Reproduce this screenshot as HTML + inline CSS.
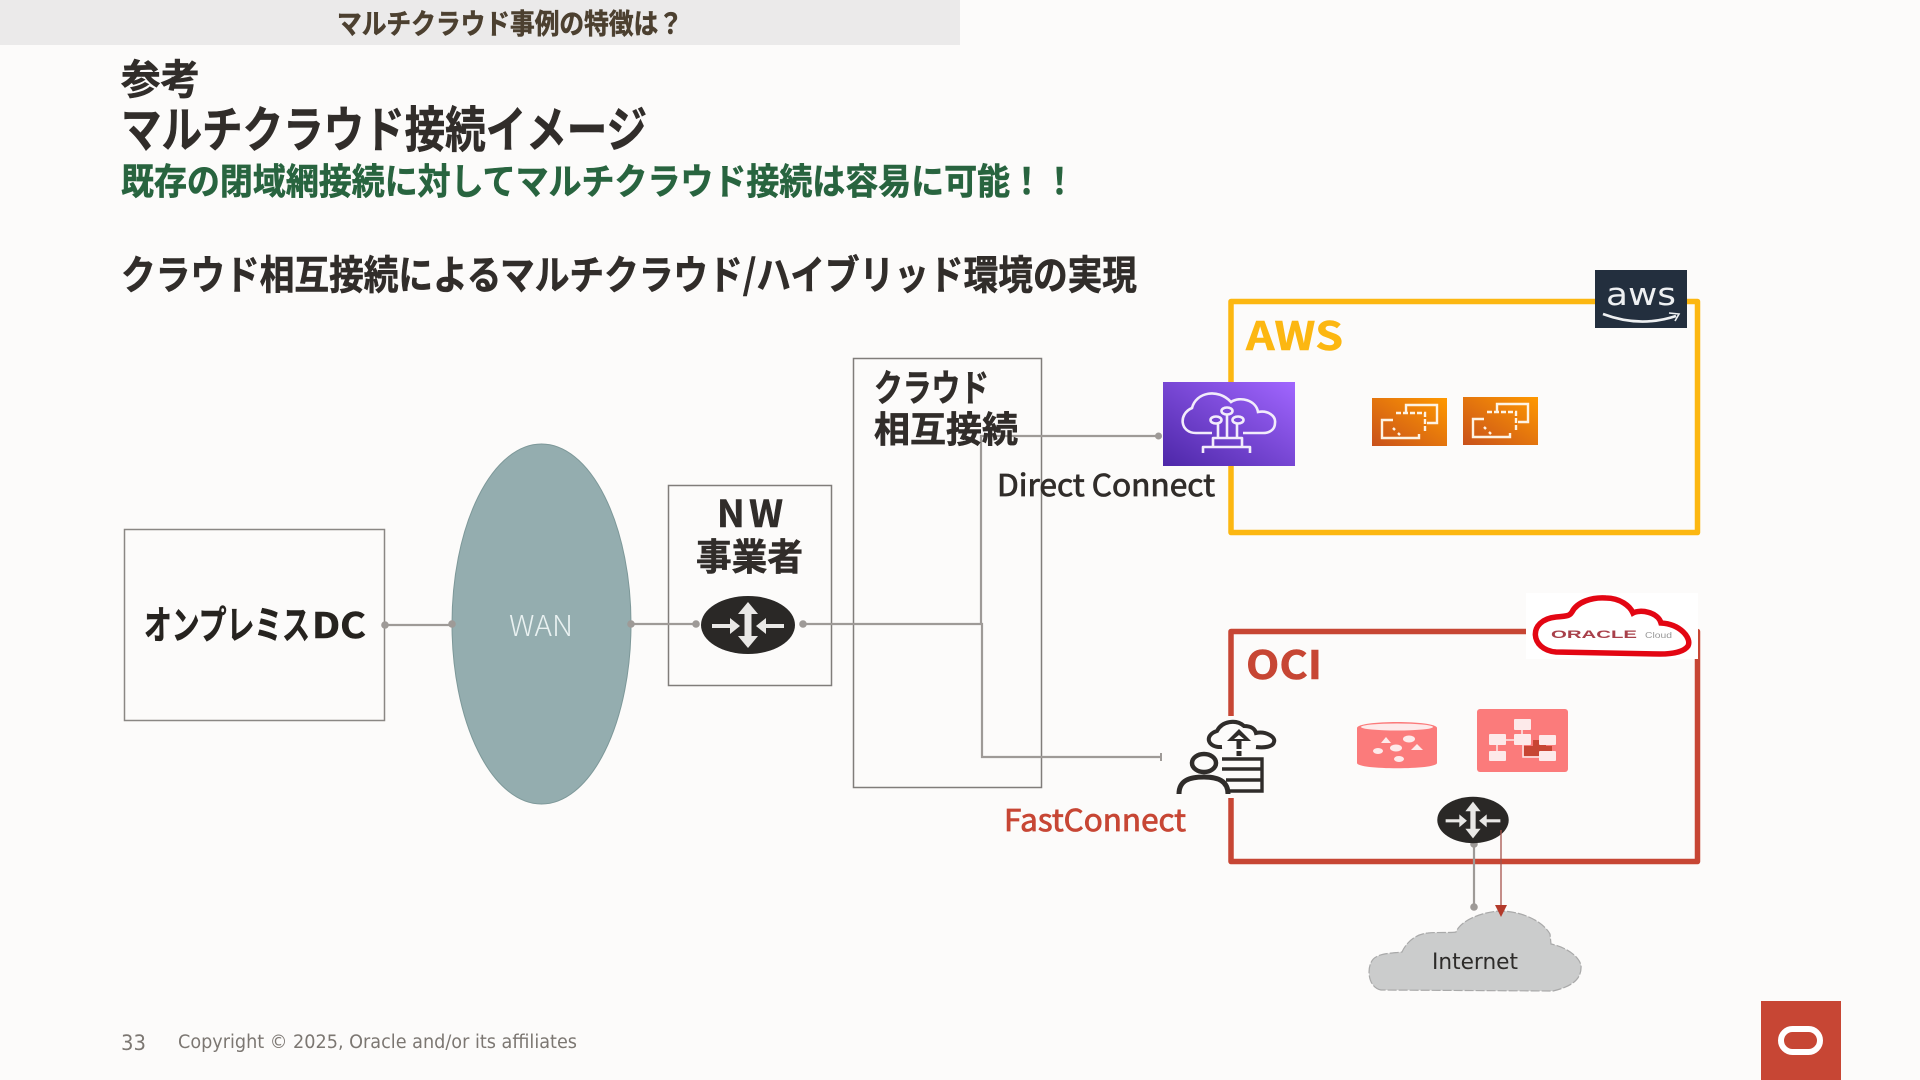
<!DOCTYPE html>
<html lang="ja">
<head>
<meta charset="utf-8">
<title>マルチクラウド接続イメージ</title>
<style>
html,body{margin:0;padding:0;background:#fcfbfa;width:1920px;height:1080px;overflow:hidden}
svg{display:block}
text{font-family:"Liberation Sans","Noto Sans CJK JP",sans-serif}
.jp{font-family:"Noto Sans CJK JP",sans-serif;font-weight:700;stroke-width:.6}
.md{font-family:"Noto Sans CJK JP",sans-serif;font-weight:400;stroke-width:.8}
.dj{font-family:"DejaVu Sans",sans-serif}
</style>
</head>
<body>
<svg width="1920" height="1080" viewBox="0 0 1920 1080" xmlns="http://www.w3.org/2000/svg">
<defs>
<linearGradient id="pur" x1="0" y1="1" x2="1" y2="0"><stop offset="0" stop-color="#4d27a8"/><stop offset="1" stop-color="#a166ff"/></linearGradient>
<linearGradient id="org" x1="0" y1="1" x2="1" y2="0"><stop offset="0" stop-color="#c8511b"/><stop offset="1" stop-color="#ff9900"/></linearGradient>
<g id="router">
<ellipse cx="0" cy="0" rx="47" ry="29" fill="#2a2826"/>
<g fill="none" stroke="#e9e8e6">
<path d="M0 -14V14" stroke-width="7"/>
<path d="M-36 1H-16M36 1H16" stroke-width="4"/>
</g>
<g fill="#e9e8e6">
<path d="M0 -23L-10 -11H10Z"/><path d="M0 23L-10 11H10Z"/>
<path d="M-8 1L-18 -7V9Z"/><path d="M8 1L18 -7V9Z"/>
</g>
</g>
<g id="ec2" fill="none" stroke="#fdf3e4" stroke-width="2.4">
<rect x="0" y="0" width="75" height="48" fill="url(#org)" stroke="none"/>
<path d="M34 14V7H65V25H55"/>
<path d="M24 15H53V35" stroke-dasharray="5 2"/>
<path d="M21 22H10V40H47V36"/>
<path d="M21 30L23 32M26 35L28 37" />
</g>
</defs>

<rect width="1920" height="1080" fill="#fcfbfa"/>
<rect x="0" y="0" width="960" height="45" fill="#ebeaea"/>

<text class="jp" x="337" y="33.5" font-size="28" fill="#4c4030" stroke="#4c4030" textLength="346" lengthAdjust="spacingAndGlyphs">マルチクラウド事例の特徴は？</text>
<text class="jp" x="121" y="94" font-size="41" fill="#312d2a" stroke="#312d2a" textLength="79" lengthAdjust="spacingAndGlyphs">参考</text>
<text class="jp" x="121" y="147" font-size="49" fill="#312d2a" stroke="#312d2a" textLength="526" lengthAdjust="spacingAndGlyphs">マルチクラウド接続イメージ</text>
<text class="jp" x="121" y="194" font-size="36" fill="#28643f" stroke="#28643f" textLength="955" lengthAdjust="spacingAndGlyphs">既存の閉域網接続に対してマルチクラウド接続は容易に可能！！</text>
<text class="jp" x="121" y="289" font-size="40" fill="#312d2a" stroke="#312d2a" textLength="1016" lengthAdjust="spacingAndGlyphs">クラウド相互接続によるマルチクラウド/ハイブリッド環境の実現</text>

<!-- boxes -->
<rect x="124.5" y="529.5" width="260" height="191" fill="#fcfbfa" stroke="#8a8784" stroke-width="1.5"/>
<ellipse cx="541.5" cy="624" rx="89.5" ry="180" fill="#94adaf" stroke="#7d9899" stroke-width="1"/>
<rect x="668.5" y="485.5" width="163" height="200" fill="#fcfbfa" stroke="#807d7a" stroke-width="1.5"/>
<rect x="853.5" y="358.5" width="188" height="429" fill="#fcfbfa" stroke="#807d7a" stroke-width="1.5"/>

<!-- AWS frame -->
<rect x="1231" y="301.5" width="466.5" height="231" fill="none" stroke="#fcb711" stroke-width="5.5" stroke-linejoin="round"/>
<!-- OCI frame -->
<rect x="1231" y="631.5" width="466.5" height="230" fill="none" stroke="#c74634" stroke-width="5.5" stroke-linejoin="round"/>

<!-- connectors -->
<g fill="none" stroke="#9e9a97" stroke-width="2.2">
<path d="M385 625H452"/>
<path d="M631 624H696"/>
<path d="M803 624H982V757H1161"/>
<path d="M981 624V436H1158"/>
<path d="M1474 844V907"/>
</g>
<path d="M1161 753V761" stroke="#9e9a97" stroke-width="2"/>
<g fill="#9e9a97">
<circle cx="385" cy="625" r="3.8"/><circle cx="452" cy="624" r="3.8"/><circle cx="631" cy="624" r="3.8"/>
<circle cx="696" cy="624" r="3.8"/><circle cx="803" cy="624" r="3.8"/><circle cx="1158.5" cy="436" r="3.5"/>
<circle cx="1474" cy="844" r="3.8"/><circle cx="1474" cy="907" r="3.8"/>
</g>

<!-- labels -->
<text class="jp" x="144" y="639" font-size="39" fill="#26231f" stroke="#26231f" textLength="166" lengthAdjust="spacingAndGlyphs">オンプレミス</text>
<text class="jp" x="312" y="638" font-size="35" fill="#26231f" stroke="#26231f" textLength="54" lengthAdjust="spacingAndGlyphs">DC</text>
<text x="509" y="636" font-size="29" fill="#e9f1f1" font-weight="300" style="font-family:'Noto Sans CJK JP',sans-serif" textLength="64" lengthAdjust="spacingAndGlyphs">WAN</text>
<text class="jp" x="717" y="527" font-size="37" fill="#312d2a" stroke="#312d2a" textLength="66">NW</text>
<text class="jp" x="696" y="570" font-size="37" fill="#312d2a" stroke="#312d2a" textLength="107" lengthAdjust="spacingAndGlyphs">事業者</text>
<text class="jp" x="874" y="401" font-size="37" fill="#312d2a" stroke="#312d2a" textLength="115" lengthAdjust="spacingAndGlyphs">クラウド</text>
<text class="jp" x="874" y="442" font-size="36" fill="#312d2a" stroke="#312d2a" textLength="144" lengthAdjust="spacingAndGlyphs">相互接続</text>
<text class="md" x="997" y="496" font-size="30" fill="#312d2a" stroke="#312d2a" textLength="218" lengthAdjust="spacingAndGlyphs">Direct Connect</text>
<text class="md" x="1004" y="831" font-size="30" fill="#c74634" stroke="#c74634" textLength="182" lengthAdjust="spacingAndGlyphs">FastConnect</text>
<text class="jp" x="1246" y="350" font-size="39" fill="#fcb711" stroke="#fcb711" textLength="97" lengthAdjust="spacingAndGlyphs">AWS</text>
<text class="jp" x="1246" y="679" font-size="39" fill="#c74634" stroke="#c74634" textLength="76" lengthAdjust="spacingAndGlyphs">OCI</text>

<!-- AWS logo -->
<rect x="1595" y="270" width="92" height="58" fill="#232f3e"/>
<text x="1606" y="305" font-size="31" fill="#eef0f2" class="dj" textLength="70" lengthAdjust="spacingAndGlyphs">aws</text>
<path d="M1603 314Q1640 328 1676 316" fill="none" stroke="#eef0f2" stroke-width="2.6"/>
<path d="M1669 313L1679 314L1675 321" fill="none" stroke="#eef0f2" stroke-width="1.6"/>

<!-- Direct Connect icon -->
<rect x="1163" y="382" width="132" height="84" fill="url(#pur)"/>
<g fill="none" stroke="#f2ecfb" stroke-width="2.6">
<path d="M1212 433H1196C1180 433 1178 414 1192 408C1196 392 1218 388 1231 402C1240 396 1256 400 1258 412C1268 410 1276 416 1275 423C1275 430 1269 433 1263 433H1243"/>
<ellipse cx="1227" cy="411" rx="5.5" ry="3.5"/><ellipse cx="1216" cy="420" rx="5.5" ry="3.5"/><ellipse cx="1238" cy="420" rx="5.5" ry="3.5"/>
<path d="M1218 424V438M1227 415V438M1237 424V438"/>
<path d="M1213 447V438H1242V447M1203 453V447H1250V453" stroke-linejoin="round"/>
</g>

<!-- EC2 icons -->
<use href="#ec2" x="1372" y="398"/>
<use href="#ec2" x="1463" y="397"/>

<!-- Oracle cloud logo -->
<rect x="1526" y="593" width="172" height="66" fill="#fff"/>
<path d="M1556 652C1530 650 1527 620 1556 617C1570 616 1570 615 1572 612C1577 602 1592 597 1606 598C1620 598 1630 606 1633 613C1640 609 1658 612 1661 623C1680 624 1692 638 1688 646C1684 652 1672 654 1660 654Z" fill="none" stroke="#e30613" stroke-width="5.5"/>
<text x="1551" y="638" font-size="11" fill="#a8404a" font-weight="700" textLength="86" lengthAdjust="spacingAndGlyphs">ORACLE</text>
<text x="1645" y="638" font-size="8" fill="#999" textLength="27" lengthAdjust="spacingAndGlyphs">Cloud</text>

<!-- FastConnect icon -->
<rect x="1174" y="716" width="104" height="82" fill="#fcfbfa"/>
<g fill="none" stroke="#2f2c2a">
<path d="M1222 747C1207 748 1204 735 1217 731C1222 721 1236 719 1244 726C1251 726 1255 729 1256 733C1266 731 1276 737 1274 742C1273 747 1264 748 1256 747" stroke-width="4"/>
<path d="M1239 738V756" stroke-width="5" stroke-dasharray="11 2"/>
<ellipse cx="1204" cy="763" rx="12" ry="9" stroke-width="4.5"/>
<path d="M1179 794C1179 780 1190 777 1204 777C1218 777 1228 781 1228 794" stroke-width="5"/>
<path d="M1222 759H1262V791H1230M1222 769H1262M1226 780H1262" stroke-width="3.4"/>
</g>
<path d="M1239 729L1227 741H1251Z" fill="#2f2c2a"/>
<path d="M1239 735L1234 739H1244Z" fill="#fcfbfa"/>

<!-- pink DB -->
<path d="M1357 728C1357 720 1437 720 1437 728V763C1437 770 1357 770 1357 763Z" fill="#fb7b7b"/>
<ellipse cx="1397" cy="727" rx="36" ry="3.5" fill="#fdeaea"/>
<g fill="#fdeaea">
<path d="M1386 737L1391 743H1381Z"/><ellipse cx="1409" cy="739" rx="6" ry="3.5"/>
<ellipse cx="1378" cy="751" rx="5" ry="3"/><ellipse cx="1396" cy="748" rx="6" ry="3.5"/>
<path d="M1417 744L1423 750H1411Z"/><ellipse cx="1399" cy="759" rx="5" ry="3"/>
</g>

<!-- pink subnet -->
<rect x="1477" y="709" width="91" height="63" rx="3" fill="#fb7b7b"/>
<path d="M1524 746H1533V740H1546V746H1552V751H1546V756H1524Z" fill="#c74634"/>
<g stroke="#fdeaea" stroke-width="1.5" fill="none"><path d="M1522 725V740M1497 740H1515M1523 745V757H1540M1497 744V752"/></g>
<g fill="#fdeaea">
<rect x="1514" y="719" width="17" height="11" rx="1"/>
<rect x="1489" y="734" width="17" height="11" rx="1"/>
<rect x="1514" y="734" width="17" height="11" rx="1"/>
<rect x="1539" y="735" width="17" height="10" rx="1"/>
<rect x="1489" y="751" width="17" height="10" rx="1"/>
<rect x="1539" y="751" width="17" height="10" rx="1"/>
</g>

<!-- routers -->
<use href="#router" x="748" y="625"/>
<g transform="translate(1473 820) scale(.76 .8)"><use href="#router"/></g>

<!-- red arrow -->
<path d="M1501 830V906" stroke="#a5524a" stroke-width="1.3" fill="none"/>

<!-- cloud -->
<path d="M1381 990C1366 987 1366 962 1376 957C1382 953 1395 953 1402 952C1406 943 1415 934 1428 933C1438 932 1450 933 1456 932C1461 920 1482 912 1500 911C1520 911 1542 920 1550 934L1551 944C1565 947 1578 955 1581 965C1582 978 1574 986 1553 991Z" fill="#cbcccc" stroke="#a9a9a9" stroke-width="1.2" stroke-dasharray="9 2"/>
<path d="M1495 905H1507L1501 917Z" fill="#b33a2b"/>
<text x="1432" y="969" font-size="22" fill="#2d2b29" class="dj" textLength="86" lengthAdjust="spacingAndGlyphs">Internet</text>

<!-- footer -->
<text x="121" y="1050" font-size="21" fill="#7c7772" class="dj" textLength="25" lengthAdjust="spacingAndGlyphs">33</text>
<text x="178" y="1048" font-size="18.5" fill="#7c7772" class="dj" textLength="399" lengthAdjust="spacingAndGlyphs">Copyright © 2025, Oracle and/or its affiliates</text>
<rect x="1761" y="1001" width="80" height="79" fill="#c74634"/>
<rect x="1781" y="1029" width="39" height="23" rx="11.5" fill="none" stroke="#fff" stroke-width="6"/>
</svg>
</body>
</html>
